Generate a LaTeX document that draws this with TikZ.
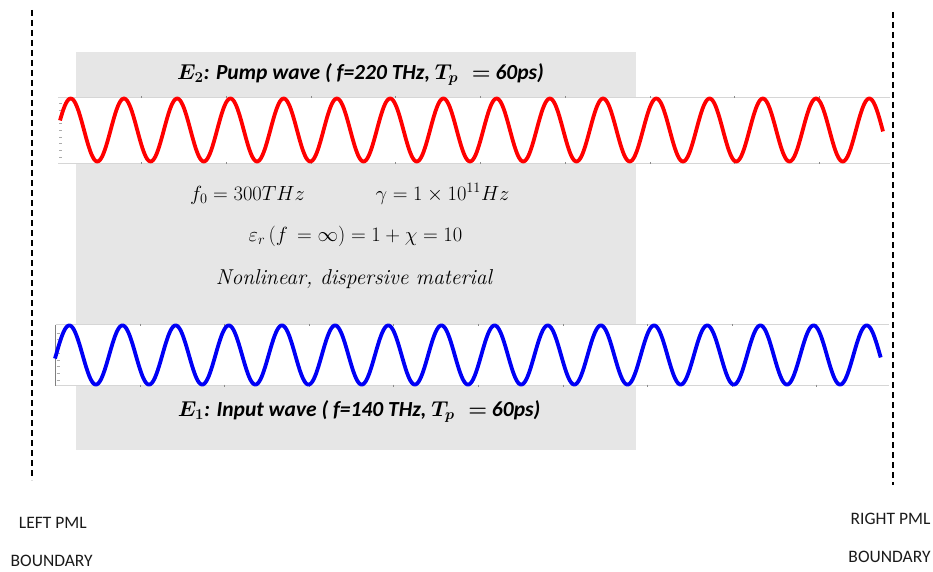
\RequirePackage{fix-cm}
\documentclass[tikz,border=0pt]{standalone}
\usepackage{fontspec}
\usepackage{amsmath}
\usepackage{bm}
\newfontfamily\calib{Carlito}
\definecolor{boxgray}{HTML}{E6E6E6}
\definecolor{axisgray}{HTML}{D6D6D6}
\definecolor{tickgray}{HTML}{8A8A8A}
\definecolor{wred}{HTML}{FF0000}
\definecolor{wblue}{HTML}{0000F5}
\definecolor{pmltext}{HTML}{1A1A1A}
\tikzset{
  wavelbl/.style={font=\calib\bfseries\itshape\fontsize{21.5}{24}\selectfont, anchor=base, inner sep=0pt},
  mathlbl/.style={font=\fontsize{20.5}{24}\selectfont, anchor=base, inner sep=0pt},
  pmllbl/.style={font=\calib\fontsize{17.5}{20}\selectfont, text=pmltext, anchor=base, inner sep=0pt},
  boundline/.style={line width=1.6pt, dash pattern=on 6pt off 4pt},
  wavepen/.style={line width=3.8pt, line join=round},
  axline/.style={draw=axisgray, line width=1pt},
  tick/.style={draw=tickgray, line width=0.8pt},
  ytick/.style={draw=axisgray!80!black, line width=0.5pt}
}
\begin{document}
\begin{tikzpicture}[x=1pt,y=-1pt]
\useasboundingbox (0,0) rectangle (933,572);
% material box
\fill[boxgray] (76,52) rectangle (636,450);
% strips
\fill[white] (58,97.3) rectangle (890,163.3);
\draw[axline] (58,97.3) -- (890,97.3);
\draw[axline] (58,163.3) -- (890,163.3);
\foreach \yy in {103.3,110,116.7,123.4,130.1,136.8,143.5,150.2,156.9}
  \draw[ytick] (59,\yy) -- (62,\yy);
\foreach \k in {0,...,8} {
  \draw[tick] ({141.7+84.7*\k},96.5) -- ({141.7+84.7*\k},98.3);
  \draw[tick] ({141.7+84.7*\k},162.3) -- ({141.7+84.7*\k},164.1);
}
\fill[white] (55.7,324.7) rectangle (889,385.7);
\draw[axline] (55.7,324.7) -- (889,324.7);
\draw[axline] (55.7,385.7) -- (889,385.7);
\draw[draw=gray, line width=1.2pt] (55.7,324.7) -- (55.7,385.7);
\foreach \yy in {333,339.7,346.4,353.1,359.8,366.5,373.2,379.9}
  \draw[ytick] (56.5,\yy) -- (60,\yy);
\foreach \k in {0,...,8} {
  \draw[tick] ({140+84.6*\k},323.9) -- ({140+84.6*\k},325.7);
  \draw[tick] ({140+84.6*\k},384.7) -- ({140+84.6*\k},386.5);
}
% waves
\draw[wavepen, wred] plot[domain=60:883, samples=700, smooth] (\x, {130 - 31.5*cos(((\x-70.7)/53.24)*360)});
\draw[wavepen, wblue] plot[domain=55:880.7, samples=700, smooth] (\x, {355 - 29.6*cos(((\x-69.3)/53.16)*360)});
% boundaries
\coordinate (lt) at (32,10);
\coordinate (lb) at (32,480);
\coordinate (rt) at (893,12);
\coordinate (rb) at (893,485);
\draw[boundline] (lt) -- (lb);
\draw[boundline] (rt) -- (rb);
% labels
\node[wavelbl] (pump) at (360.5,79.5) {{\boldmath$E_2$}: Pump wave ( f=220 THz, {\boldmath$T_p\;=$}\ 60ps)};
\node[wavelbl] (input) at (359,416) {{\boldmath$E_1$}: Input wave ( f=140 THz, {\boldmath$T_p\;=$}\ 60ps)};
\node[mathlbl] (f0) at (247.5,200) {$f_0 = 300THz$};
\node[mathlbl] (gam) at (442.5,200) {$\gamma = 1\times 10^{11}Hz$};
\node[mathlbl] (eps) at (355.5,241) {$\varepsilon_r\,(f\, = \infty) = 1 + \chi = 10$};
\node[mathlbl, font=\fontsize{21.5}{24}\selectfont] (nl) at (354,284) {\itshape Nonlinear, dispersive material};
\node[pmllbl] (lpml) at (52.8,528.3) {LEFT PML};
\node[pmllbl] (lbnd) at (51.7,566) {BOUNDARY};
\node[pmllbl] (rpml) at (890.5,524) {RIGHT PML};
\node[pmllbl] (rbnd) at (889.5,562) {BOUNDARY};
\end{tikzpicture}
\end{document}
